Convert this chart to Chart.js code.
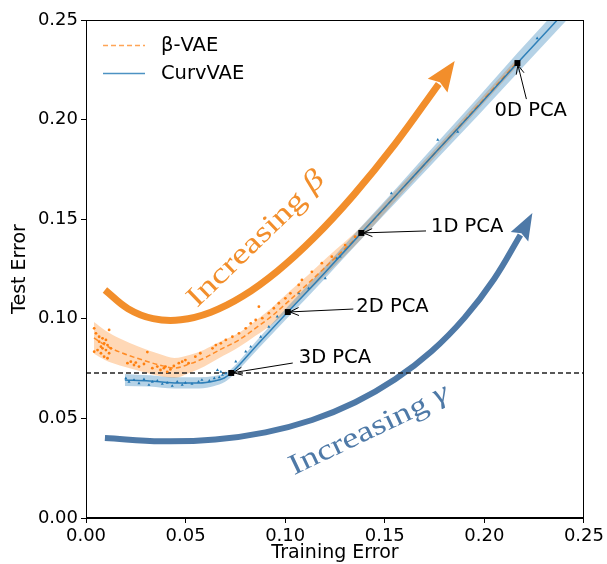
<!DOCTYPE html>
<html><head><meta charset="utf-8">
<script src="https://cdn.jsdelivr.net/npm/chart.js@4.4.1/dist/chart.umd.min.js"></script>
<style>html,body{margin:0;padding:0;background:#fff}#wrap{width:607px;height:564px}</style>
</head><body><div id="wrap"><canvas id="c" width="607" height="564"></canvas></div>
<script>
// ---------------- data ----------------
const xTicks = [0.00, 0.05, 0.10, 0.15, 0.20, 0.25];
const yTicks = [0.00, 0.05, 0.10, 0.15, 0.20, 0.25];

// beta-VAE mean curve and spread
const betaX    = [0.0040,0.0095,0.0170,0.0269,0.0369,0.0444,0.0519,0.0594,0.0669,0.0768,0.0853,0.0933,0.1018,0.1118,0.1218,0.1382,0.1567,0.1766,0.1966,0.2161];
const betaMean = [0.0904,0.0868,0.0833,0.0798,0.0768,0.0753,0.0773,0.0803,0.0843,0.0894,0.0954,0.1014,0.1089,0.1180,0.1275,0.1431,0.1631,0.1847,0.2068,0.2284];
const betaStd  = [0.0080,0.0075,0.0068,0.0060,0.0055,0.0050,0.0045,0.0042,0.0040,0.0036,0.0038,0.0042,0.0045,0.0042,0.0040,0.0030,0.0025,0.0020,0.0020,0.0020];

// CurvVAE mean curve and spread
const curvX    = [0.0195,0.0319,0.0444,0.0569,0.0644,0.0694,0.0729,0.0868,0.1013,0.1193,0.1382,0.1567,0.1766,0.1966,0.2166,0.2440];
const curvMean = [0.0693,0.0688,0.0678,0.0678,0.0688,0.0703,0.0728,0.0879,0.1034,0.1225,0.1431,0.1631,0.1847,0.2063,0.2284,0.2580];
const curvStd  = [0.0030,0.0028,0.0028,0.0028,0.0025,0.0022,0.0020,0.0025,0.0028,0.0030,0.0032,0.0035,0.0040,0.0045,0.0050,0.0052];

// individual runs (scatter)
const betaRunsX = [0.0041,0.0050,0.0066,0.0075,0.0083,0.0091,0.0100,0.0108,0.0116,0.0058,0.0075,0.0091,0.0041,0.0116,0.0100,0.0066,0.0083,0.0108,0.0125,
  0.0208,0.0225,0.0241,0.0250,0.0266,0.0291,0.0308,0.0333,0.0358,0.0374,0.0391,0.0408,0.0399,0.0424,0.0441,0.0466,0.0483,0.0499,0.0515,0.0549,0.0574,
  0.0635,0.0652,0.0677,0.0702,0.0735,0.0768,0.0802,0.0827,0.0852,0.0868,0.0885,0.0918,0.0943,0.0968,0.1001,0.1026,0.1068,0.1084,0.1134,0.1184,0.1234,0.1301,0.1351];
const betaRunsY = [0.0952,0.0927,0.0885,0.0860,0.0902,0.0877,0.0843,0.0868,0.0944,0.0843,0.0827,0.0810,0.0835,0.0827,0.0894,0.0910,0.0852,0.0802,0.0852,
  0.0777,0.0785,0.0768,0.0780,0.0760,0.0773,0.0833,0.0752,0.0760,0.0743,0.0752,0.0734,0.0760,0.0746,0.0763,0.0777,0.0785,0.0793,0.0777,0.0810,0.0827,
  0.0852,0.0868,0.0877,0.0894,0.0910,0.0927,0.0952,0.0977,0.0994,0.1061,0.1003,0.1028,0.1053,0.1078,0.1103,0.1128,0.1170,0.1195,0.1236,0.1279,0.1312,0.1370,0.1412];
const curvRunsX = [0.0200,0.0216,0.0241,0.0266,0.0291,0.0316,0.0333,0.0358,0.0383,0.0408,0.0433,0.0458,0.0483,0.0499,0.0532,0.0565,0.0582,0.0619,0.0644,0.0669,0.0685,0.0702,0.0660,0.0677,
  0.0752,0.0802,0.0827,0.0877,0.0918,0.0960,0.1068,0.1118,0.1201,0.1259,0.1276,0.1533,0.1766,0.1866,0.2265];
const curvRunsY = [0.0701,0.0684,0.0693,0.0676,0.0696,0.0668,0.0684,0.0689,0.0673,0.0679,0.0663,0.0684,0.0668,0.0679,0.0673,0.0684,0.0693,0.0689,0.0701,0.0706,0.0718,0.0726,0.0743,0.0734,
  0.0785,0.0835,0.0860,0.0910,0.0960,0.1011,0.1128,0.1153,0.1203,0.1304,0.1312,0.1630,0.1898,0.1939,0.2408];

// PCA reference points
const pcaLabels = ['3D PCA','2D PCA','1D PCA','0D PCA'];
const pcaX = [0.0729,0.1013,0.1382,0.2166];
const pcaY = [0.0728,0.1034,0.1431,0.2284];
const pcaBaseline = 0.0728;

// schematic "increasing" arrows
const betaArrowX = [0.0095,0.0211,0.0337,0.0476,0.0627,0.0788,0.0962,0.1147,0.1343,0.1552,0.1771];
const betaArrowY = [0.1145,0.1051,0.1001,0.0995,0.1033,0.1114,0.1240,0.1409,0.1621,0.1878,0.2179];
const betaArrowTip = [0.1851,0.2294];
const gammaArrowX = [0.0095,0.0381,0.0649,0.0901,0.1135,0.1352,0.1552,0.1735,0.1901,0.2049,0.2181];
const gammaArrowY = [0.0402,0.0385,0.0394,0.0430,0.0492,0.0581,0.0696,0.0837,0.1006,0.1200,0.1421];
const gammaArrowTip = [0.2241,0.1531];

// ---------------- annotation layout (data coords) ----------------
const pcaNotes = [
  {text:[0.1068,0.0803], from:[0.1038,0.0778]},
  {text:[0.1357,0.1059], from:[0.1342,0.1049]},
  {text:[0.1732,0.1461], from:[0.1707,0.1441]},
  {text:[0.2051,0.2043], from:[0.2211,0.2103]}
];
const bigTexts = [
  {word:'Increasing', sym:'β', at:[0.0858,0.1396], angle:-44, len:181, color:'#f28e2b'},
  {word:'Increasing', sym:'γ', at:[0.1422,0.0437], angle:-25.5, len:174, color:'#4e79a7'}
];

const FAM = '"DejaVu Sans", sans-serif';
const zip = (xs, ys) => xs.map((v,i)=>({x:v, y:ys[i]}));

const ORANGE = '#ff7f0e', BLUE = '#1f77b4';

const datasets = [
  // bands
  {data: zip(betaX, betaMean.map((m,i)=>m-betaStd[i])), borderWidth:0, pointRadius:0, cubicInterpolationMode:'monotone', order:7, fill:false},
  {data: zip(betaX, betaMean.map((m,i)=>m+betaStd[i])), borderWidth:0, pointRadius:0, cubicInterpolationMode:'monotone', order:7, fill:'-1', backgroundColor:'rgba(255,127,14,0.30)'},
  {data: zip(curvX, curvMean.map((m,i)=>m-curvStd[i])), borderWidth:0, pointRadius:0, cubicInterpolationMode:'monotone', order:6, fill:false},
  {data: zip(curvX, curvMean.map((m,i)=>m+curvStd[i])), borderWidth:0, pointRadius:0, cubicInterpolationMode:'monotone', order:6, fill:'-1', backgroundColor:'rgba(31,119,180,0.33)'},
  // big arrows
  {data: zip(betaArrowX, betaArrowY), borderColor:'#f28e2b', borderWidth:7, pointRadius:0, tension:0.4, borderCapStyle:'butt', order:8, fill:false},
  {data: zip(gammaArrowX, gammaArrowY), borderColor:'#4e79a7', borderWidth:6, pointRadius:0, tension:0.4, borderCapStyle:'butt', order:8, fill:false},
  // baseline
  {data: [{x:0,y:pcaBaseline},{x:0.25,y:pcaBaseline}], borderColor:'#222', borderWidth:1.3, borderDash:[5,3], pointRadius:0, order:5, fill:false},
  // scatter runs
  {data: zip(betaRunsX, betaRunsY), showLine:false, pointRadius:1.4, pointStyle:'circle', backgroundColor:ORANGE, borderWidth:0, order:4},
  {data: zip(curvRunsX, curvRunsY), showLine:false, pointRadius:1.8, pointStyle:'triangle', backgroundColor:BLUE, borderWidth:0, order:3},
  // mean lines
  {label:'β-VAE', data: zip(betaX, betaMean), borderColor:'rgba(255,127,14,0.85)', borderWidth:1.5, borderDash:[5,3], pointRadius:0, cubicInterpolationMode:'monotone', order:2, fill:false},
  {label:'CurvVAE', data: zip(curvX, curvMean), borderColor:'rgba(31,119,180,0.9)', borderWidth:1.5, pointRadius:0, cubicInterpolationMode:'monotone', order:1, fill:false},
  // PCA markers
  {data: zip(pcaX, pcaY), showLine:false, pointStyle:'rect', pointRadius:4.2, backgroundColor:'#000', borderWidth:0, order:0}
];

function arrowHead(ctx, bx, by, tx, ty, hw, color) {
  const dx = tx-bx, dy = ty-by, L = Math.hypot(dx,dy);
  const ux = dx/L, uy = dy/L, nx = -uy, ny = ux;
  ctx.beginPath();
  ctx.moveTo(tx, ty);
  ctx.lineTo(bx + nx*hw - ux*2, by + ny*hw - uy*2);
  ctx.lineTo(bx + ux*2, by + uy*2);
  ctx.lineTo(bx - nx*hw - ux*2, by - ny*hw - uy*2);
  ctx.closePath();
  ctx.fillStyle = color; ctx.fill();
}

const decor = {
  id:'decor',
  afterDatasetsDraw(chart) {
    const {ctx, chartArea:a, scales:{x, y}} = chart;
    const X = v => x.getPixelForValue(v), Y = v => y.getPixelForValue(v);
    ctx.save();
    ctx.beginPath(); ctx.rect(a.left, a.top, a.right-a.left, a.bottom-a.top); ctx.clip();
    // big arrow heads
    let n = betaArrowX.length-1;
    arrowHead(ctx, X(betaArrowX[n]), Y(betaArrowY[n]), X(betaArrowTip[0]), Y(betaArrowTip[1]), 12, '#f28e2b');
    n = gammaArrowX.length-1;
    arrowHead(ctx, X(gammaArrowX[n]), Y(gammaArrowY[n]), X(gammaArrowTip[0]), Y(gammaArrowTip[1]), 10, '#4e79a7');
    // big texts
    bigTexts.forEach(t => {
      ctx.save();
      ctx.translate(X(t.at[0]), Y(t.at[1]));
      ctx.rotate(t.angle*Math.PI/180);
      const size = 29;
      ctx.font = `${size}px "Liberation Serif", serif`;
      const w1 = ctx.measureText(t.word+' ').width;
      ctx.font = `italic ${size}px "Liberation Serif", serif`;
      const w2 = ctx.measureText(t.sym).width;
      const tot = w1 + w2;
      ctx.scale(t.len/tot, 1);
      ctx.fillStyle = t.color; ctx.textBaseline = 'middle'; ctx.textAlign = 'left';
      ctx.font = `${size}px "Liberation Serif", serif`;
      ctx.fillText(t.word+' ', -tot/2, 0);
      ctx.font = `italic ${size}px "Liberation Serif", serif`;
      ctx.fillText(t.sym, -tot/2 + w1, -2);
      ctx.restore();
    });
    // PCA annotations
    ctx.font = `19.5px ${FAM}`; ctx.fillStyle = '#000'; ctx.textBaseline = 'middle'; ctx.textAlign = 'left';
    ctx.strokeStyle = '#000'; ctx.lineWidth = 1;
    pcaNotes.forEach((p,i) => {
      ctx.fillText(pcaLabels[i], X(p.text[0]), Y(p.text[1]));
      const sx = X(p.from[0]), sy = Y(p.from[1]);
      let ex = X(pcaX[i]), ey = Y(pcaY[i]);
      const dx = ex-sx, dy = ey-sy, L = Math.hypot(dx,dy), ux = dx/L, uy = dy/L;
      ex -= ux*2; ey -= uy*2;
      ctx.beginPath(); ctx.moveTo(sx, sy); ctx.lineTo(ex, ey); ctx.stroke();
      const hl = 9, hw = 4;
      ctx.beginPath();
      ctx.moveTo(ex - ux*hl - uy*hw, ey - uy*hl + ux*hw);
      ctx.lineTo(ex, ey);
      ctx.lineTo(ex - ux*hl + uy*hw, ey - uy*hl - ux*hw);
      ctx.stroke();
    });
    ctx.restore();
    // legend
    ctx.save();
    ctx.lineWidth = 1.5;
    ctx.strokeStyle = 'rgba(255,127,14,0.7)'; ctx.setLineDash([5,3]);
    ctx.beginPath(); ctx.moveTo(103, 45.5); ctx.lineTo(145, 45.5); ctx.stroke();
    ctx.setLineDash([]);
    ctx.strokeStyle = 'rgba(31,119,180,0.8)';
    ctx.beginPath(); ctx.moveTo(103, 73.5); ctx.lineTo(145, 73.5); ctx.stroke();
    ctx.fillStyle = '#000'; ctx.font = `19.5px ${FAM}`; ctx.textBaseline = 'middle'; ctx.textAlign = 'left';
    ctx.fillText(chart.data.datasets[9].label, 161, 46);
    ctx.fillText(chart.data.datasets[10].label, 161, 74);
    // frame
    ctx.strokeStyle = '#000'; ctx.lineWidth = 1;
    ctx.strokeRect(Math.round(a.left)+0.5, Math.round(a.top)+0.5, Math.round(a.right-a.left)-1, Math.round(a.bottom-a.top)-1);
    ctx.restore();
  }
};

const axisCommon = (ticksArr, isX) => ({
  type:'linear', min:0, max:0.25,
  afterBuildTicks: s => { s.ticks = ticksArr.map(v=>({value:v})); },
  afterFit: s => { if (isX) s.height = 46; else s.width = 86; },
  ticks: { callback: v => Number(v).toFixed(2), font:{family:FAM, size:18}, color:'#000', padding:3, maxRotation:0, autoSkip:false },
  grid: { display:true, drawOnChartArea:false, drawTicks:true, tickLength:5, tickColor:'#000', tickWidth:1 },
  border: { display:true, color:'#000', width:1 },
  title: { display:true, text: isX ? 'Training Error' : 'Test Error', font:{family:FAM, size:19}, color:'#000',
           padding: isX ? {top:0, bottom:0} : {top:9, bottom:0} }
});

new Chart(document.getElementById('c'), {
  type:'line',
  data:{datasets},
  options:{
    responsive:false, animation:false, devicePixelRatio:1,
    layout:{padding:{top:20, right:20, left:0, bottom:0}},
    plugins:{legend:{display:false}, tooltip:{enabled:false}},
    scales:{ x: axisCommon(xTicks, true), y: axisCommon(yTicks, false) }
  },
  plugins:[decor]
});
</script>
</body></html>
